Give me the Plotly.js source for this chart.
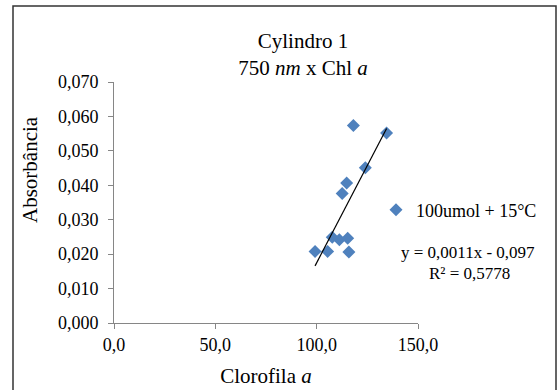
<!DOCTYPE html>
<html>
<head>
<meta charset="utf-8">
<script src="https://cdn.plot.ly/plotly-3.0.1.min.js"></script>
<style>
  html, body { margin: 0; padding: 0; background: #ffffff; }
  #chart { width: 558px; height: 390px; }
</style>
</head>
<body>
<div id="chart"></div>
<script>
// ---- data ----
const chlA = [118.1, 134.5, 124.0, 114.8, 112.6, 107.7, 111.2, 115.3, 99.2, 105.4, 115.9];
const absorbancia = [0.0574, 0.0552, 0.0451, 0.0407, 0.0376, 0.0249, 0.0242, 0.0246, 0.0208, 0.0208, 0.0206];
const seriesName = "100umol + 15°C";
const chartTitle = "Cylindro 1<br>750 <i>nm</i> x Chl <i>a</i>";
const xTitle = "Clorofila <i>a</i>";
const yTitle = "Absorbância";
const equationText = "y = 0,0011x - 0,097";
const r2Text = "R² = 0,5778";
const xTicks = [0, 50, 100, 150];
const yTicks = [0, 0.01, 0.02, 0.03, 0.04, 0.05, 0.06, 0.07];

// ---- linear least-squares trendline from the data ----
const n = chlA.length;
const mx = chlA.reduce((a, b) => a + b, 0) / n;
const my = absorbancia.reduce((a, b) => a + b, 0) / n;
let sxy = 0, sxx = 0;
for (let i = 0; i < n; i++) {
  sxy += (chlA[i] - mx) * (absorbancia[i] - my);
  sxx += (chlA[i] - mx) * (chlA[i] - mx);
}
const slope = sxy / sxx;
const intercept = my - slope * mx;
const xMin = Math.min(...chlA), xMax = Math.max(...chlA);
const trendX = [xMin, xMax];
const trendY = trendX.map(x => slope * x + intercept);

const FONT = "'Liberation Serif', 'Times New Roman', serif";
const AXIS_COLOR = "#868686";

const traces = [
  {
    x: chlA, y: absorbancia, type: "scatter", mode: "markers", name: seriesName,
    marker: { symbol: "diamond", size: 10, color: "#4F81BD" },
    hoverinfo: "x+y"
  },
  {
    x: trendX, y: trendY, type: "scatter", mode: "lines", showlegend: false,
    line: { color: "#000000", width: 1.2 }, hoverinfo: "skip"
  }
];

const L = 114, R = 140, T = 82, B = 67;
const W = 558, H = 390;
const pw = W - L - R, ph = H - T - B;
const px = v => (v - L) / pw;          // pixel x -> paper x
const py = v => (H - B - v) / ph;      // pixel y -> paper y

const layout = {
  width: W, height: H,
  margin: { l: L, r: R, t: T, b: B, pad: 0 },
  paper_bgcolor: "#ffffff", plot_bgcolor: "#ffffff",
  separators: ", ",
  font: { family: FONT, color: "#000000", size: 18 },
  title: {
    text: chartTitle,
    font: { family: FONT, size: 21, color: "#000000" },
    xref: "paper", x: px(303), xanchor: "center",
    yref: "container", y: 1 - 48 / H, yanchor: "top"
  },
  xaxis: {
    range: [0, 150], tickvals: xTicks, tickformat: ".1f",
    showgrid: false, zeroline: false,
    showline: true, linecolor: AXIS_COLOR, linewidth: 1,
    ticks: "outside", ticklen: 5, tickcolor: AXIS_COLOR, tickwidth: 1,
    tickfont: { family: FONT, size: 18, color: "#000000" },
    title: { text: xTitle, font: { family: FONT, size: 21, color: "#000000" }, standoff: 14 },
    fixedrange: true
  },
  yaxis: {
    range: [0, 0.07], tickvals: yTicks, tickformat: ".3f",
    showgrid: false, zeroline: false,
    showline: true, linecolor: AXIS_COLOR, linewidth: 1,
    ticks: "outside", ticklen: 5, tickcolor: AXIS_COLOR, tickwidth: 1,
    ticklabelstandoff: 6,
    tickfont: { family: FONT, size: 18, color: "#000000" },
    fixedrange: true
  },
  showlegend: true,
  legend: {
    x: px(376), xanchor: "left", y: py(210), yanchor: "middle",
    font: { family: FONT, size: 18, color: "#000000" },
    bgcolor: "rgba(0,0,0,0)", borderwidth: 0
  },
  annotations: [
    { text: yTitle, textangle: -90, xref: "paper", yref: "paper",
      x: px(30), y: py(169), xanchor: "center", yanchor: "middle", showarrow: false,
      font: { family: FONT, size: 21, color: "#000000" } },
    { text: equationText, xref: "paper", yref: "paper",
      x: px(468), y: py(253), xanchor: "center", yanchor: "middle", showarrow: false,
      font: { family: FONT, size: 17, color: "#000000" } },
    { text: r2Text, xref: "paper", yref: "paper",
      x: px(469), y: py(273), xanchor: "center", yanchor: "middle", showarrow: false,
      font: { family: FONT, size: 17, color: "#000000" } }
  ],
  shapes: [
    { type: "rect", xref: "paper", yref: "paper",
      x0: px(13), x1: px(556), y0: py(393), y1: py(6),
      line: { color: "#333333", width: 1.5 }, fillcolor: "rgba(0,0,0,0)", layer: "above" }
  ]
};

Plotly.newPlot("chart", traces, layout, { displayModeBar: false, staticPlot: true });
</script>
</body>
</html>
